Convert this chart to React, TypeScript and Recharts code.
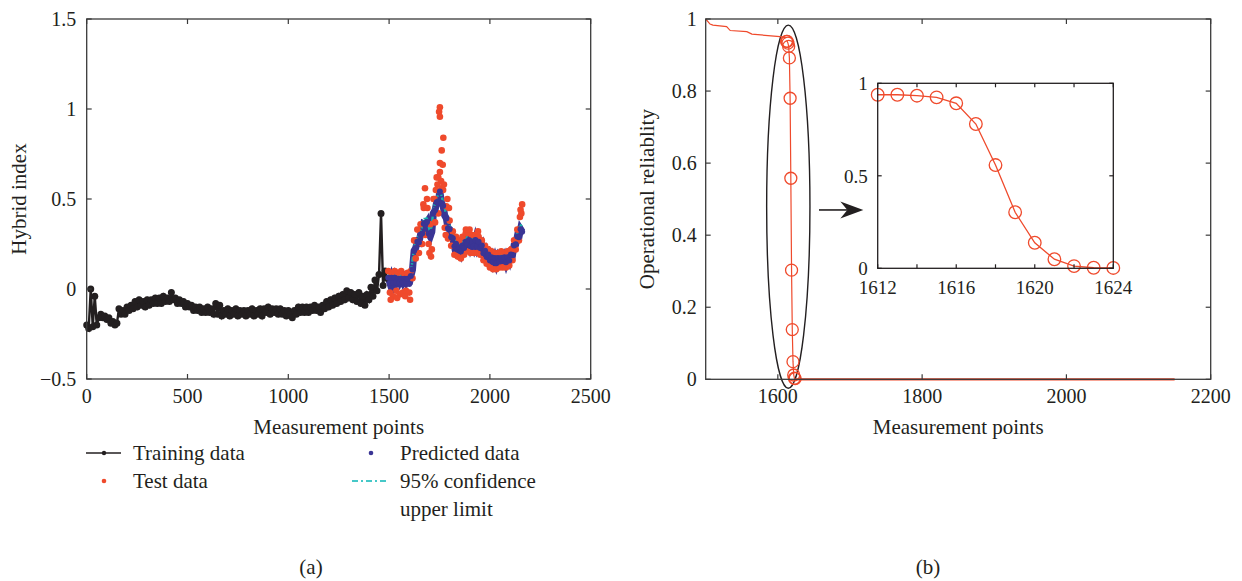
import React from 'react';
import { ComposedChart, LineChart, Line, XAxis, YAxis, ReferenceArea } from 'recharts';

const FONT = '"Liberation Serif", "DejaVu Serif", serif';
const INK = '#231f20';
const AXIS = '#3a3a3a';
const RED = '#ef4a2c';
const BLUE = '#3a3595';
const TEAL = '#19b2aa';

// ---- panel (a): hybrid index ----
const TRAIN_START = 0;
const TRAIN_STEP = 10;
const trainingValues = [
  -0.2, -0.22, 0.0, -0.21, -0.04, -0.2, -0.16, -0.14, -0.16, -0.15,
  -0.17, -0.16, -0.19, -0.18, -0.2, -0.19, -0.11, -0.14, -0.12, -0.14,
  -0.1, -0.12, -0.09, -0.11, -0.07, -0.1, -0.06, -0.09, -0.07, -0.1,
  -0.06, -0.09, -0.06, -0.08, -0.05, -0.08, -0.05, -0.08, -0.04, -0.07,
  -0.05, -0.07, -0.02, -0.06, -0.05, -0.08, -0.06, -0.08, -0.07, -0.1,
  -0.08, -0.1, -0.09, -0.12, -0.1, -0.12, -0.1, -0.13, -0.11, -0.13,
  -0.1, -0.13, -0.11, -0.14, -0.08, -0.14, -0.09, -0.15, -0.12, -0.14,
  -0.11, -0.15, -0.12, -0.14, -0.11, -0.15, -0.12, -0.14, -0.12, -0.15,
  -0.12, -0.14, -0.11, -0.15, -0.12, -0.14, -0.11, -0.15, -0.11, -0.13,
  -0.1, -0.14, -0.11, -0.13, -0.11, -0.14, -0.11, -0.14, -0.12, -0.15,
  -0.12, -0.14, -0.16, -0.12, -0.14, -0.1, -0.13, -0.1, -0.13, -0.1,
  -0.13, -0.1, -0.12, -0.09, -0.12, -0.1, -0.13, -0.09, -0.11, -0.07,
  -0.1, -0.06, -0.09, -0.05, -0.08, -0.04, -0.07, -0.03, -0.06, -0.01,
  -0.05, -0.02, -0.06, -0.03, -0.07, -0.02, -0.08, -0.04, -0.09, -0.03,
  -0.06, 0.01, -0.04, 0.05, -0.01, 0.08, 0.42, 0.02, 0.1, 0.06,
];

const TEST_START = 1496;
const TEST_STEP = 8;
const testValues = [
  0.1, -0.02, 0.09, -0.04, 0.1, -0.01, 0.09, -0.03, 0.1, -0.02,
  0.08, -0.01, 0.09, -0.02, 0.1, 0.06, 0.27, 0.17, 0.33, 0.2,
  0.36, 0.25, 0.45, 0.3, 0.5, 0.25, 0.36, 0.22, 0.5, 0.37,
  0.62, 0.42, 0.7, 0.56, 0.55, 0.34, 0.46, 0.28, 0.38, 0.24,
  0.32, 0.19, 0.29, 0.18, 0.27, 0.17, 0.29, 0.19, 0.31, 0.21,
  0.31, 0.2, 0.3, 0.2, 0.3, 0.2, 0.29, 0.19, 0.27, 0.16,
  0.24, 0.14, 0.22, 0.12, 0.21, 0.11, 0.2, 0.11, 0.2, 0.12,
  0.21, 0.12, 0.2, 0.12, 0.21, 0.13, 0.22, 0.16, 0.27, 0.22,
  0.33, 0.27, 0.44, 0.47,
];
const predictedValues = [
  0.062, 0.033, 0.062, 0.033, 0.062, 0.038, 0.057, 0.038, 0.057, 0.038,
  0.057, 0.038, 0.057, 0.028, 0.072, 0.108, 0.212, 0.228, 0.262, 0.258,
  0.302, 0.308, 0.362, 0.358, 0.372, 0.308, 0.292, 0.318, 0.422, 0.438,
  0.482, 0.488, 0.542, 0.478, 0.462, 0.408, 0.392, 0.338, 0.332, 0.288,
  0.282, 0.238, 0.252, 0.218, 0.232, 0.208, 0.242, 0.228, 0.262, 0.248,
  0.272, 0.238, 0.262, 0.238, 0.272, 0.238, 0.262, 0.228, 0.242, 0.198,
  0.212, 0.178, 0.192, 0.158, 0.177, 0.148, 0.172, 0.143, 0.172, 0.153,
  0.172, 0.158, 0.177, 0.148, 0.177, 0.158, 0.192, 0.188, 0.242, 0.248,
  0.292, 0.288, 0.332, 0.318,
];
const upperLimitValues = [
  0.08, 0.075, 0.08, 0.078, 0.08, 0.08, 0.075, 0.08, 0.076, 0.08,
  0.075, 0.08, 0.076, 0.072, 0.09, 0.16, 0.23, 0.27, 0.28, 0.3,
  0.32, 0.35, 0.38, 0.4, 0.39, 0.35, 0.31, 0.36, 0.44, 0.48,
  0.5, 0.53, 0.57, 0.52, 0.48, 0.45, 0.41, 0.38, 0.35, 0.33,
  0.3, 0.28, 0.27, 0.26, 0.25, 0.25, 0.26, 0.27, 0.28, 0.29,
  0.29, 0.28, 0.28, 0.28, 0.29, 0.28, 0.28, 0.27, 0.26, 0.24,
  0.23, 0.22, 0.21, 0.2, 0.195, 0.19, 0.19, 0.185, 0.19, 0.195,
  0.19, 0.2, 0.195, 0.19, 0.195, 0.2, 0.21, 0.23, 0.26, 0.29,
  0.31, 0.33, 0.35, 0.36,
];
// scattered test points away from the band
const testExtraX = [1752, 1748, 1752, 1769, 1761, 1766, 1752, 1744, 1740, 1758, 1772, 1732, 1678, 1670, 1690, 1700, 1708, 1781, 1789, 2149, 2156, 1881, 1899, 1941, 1604, 1508, 1540, 1580, 1725, 1797];
const testExtraY = [1.01, 0.985, 0.957, 0.84, 0.77, 0.69, 0.65, 0.62, 0.58, 0.6, 0.58, 0.55, 0.56, 0.47, 0.45, 0.2, 0.18, 0.3, 0.5, 0.4, 0.42, 0.33, 0.33, 0.32, -0.06, -0.06, -0.05, -0.04, 0.5, 0.45];

const hybridXDomain = [0, 2500];
const hybridYDomain = [-0.5, 1.5];
const hybridXTicks = [0, 500, 1000, 1500, 2000, 2500];
const hybridYTicks = [-0.5, 0, 0.5, 1, 1.5];

// ---- panel (b): operational reliability ----
const headX = [1500, 1506, 1510, 1529, 1534, 1557, 1564, 1603, 1611];
const headY = [1.0, 0.986, 0.983, 0.979, 0.968, 0.965, 0.958, 0.951, 0.948];
const dropX = [1612, 1613, 1614, 1615, 1616, 1617, 1618, 1619, 1620, 1621, 1622, 1623, 1624];
const dropY = [0.938, 0.938, 0.933, 0.924, 0.892, 0.78, 0.558, 0.303, 0.138, 0.049, 0.012, 0.003, 0.002];
const tailX = [1624, 2150];
const tailY = [0, 0];

const relXDomain = [1500, 2200];
const relYDomain = [0, 1];
const relXTicks = [1600, 1800, 2000, 2200];
const relYTicks = [0, 0.2, 0.4, 0.6, 0.8, 1];
const insetXDomain = [1612, 1624];
const insetXTicks = [1612, 1614, 1616, 1618, 1620, 1622, 1624];
const insetXLabels = [1612, 1616, 1620, 1624];
const insetYTicks = [0, 0.5, 1];

const trainingData = trainingValues.map((y, i) => ({ x: TRAIN_START + i * TRAIN_STEP, y }));
const testData = [
  ...testValues.map((y, i) => ({ x: TEST_START + i * TEST_STEP, y })),
  ...testExtraX.map((x, i) => ({ x, y: testExtraY[i] })),
];
const predictedData = predictedValues.map((y, i) => ({ x: TEST_START + i * TEST_STEP, y }));
const upperData = upperLimitValues.map((y, i) => ({ x: TEST_START + i * TEST_STEP, y }));

const headData = headX.map((x, i) => ({ x, y: headY[i] }));
const dropData = dropX.map((x, i) => ({ x, y: dropY[i] }));
const tailData = tailX.map((x, i) => ({ x, y: tailY[i] }));

// plot boxes (page pixels), shared by the chart margins and the frame overlay
const LEFT_BOX = { left: 86.7, top: 19, width: 504, height: 360 };
const RIGHT_BOX = { left: 705.7, top: 19, width: 505, height: 360.3 };
const INSET_BOX = { left: 877.7, top: 83.3, width: 235.6, height: 185 };

const labelStyle = { fontSize: 21, fill: INK, fontFamily: FONT };
const minus = (v: number) => String(v).replace('-', '\u2212');
const plain = (v: number) => String(v);

type Side = 'bottom' | 'left';

// tick label handed over by Recharts at the axis position
const makeTick = (side: Side, fmt: (v: number) => string, fontSize = 20, gap = 10, drop = 24) =>
  (p: any) => {
    const { x, y, payload } = p;
    const label = fmt(payload.value);
    const font = { fontSize, fill: INK, fontFamily: FONT };
    if (!label) return <g />;
    if (side === 'bottom') return <text x={x} y={y + drop} textAnchor="middle" {...font}>{label}</text>;
    return <text x={x - gap} y={y + 7} textAnchor="end" {...font}>{label}</text>;
  };

const dotShape = (color: string, r: number) => (p: any) =>
  <circle key={`${p.index}`} cx={p.cx} cy={p.cy} r={r} fill={color} />;

const EllipseShape = (p: any) => (
  <ellipse
    cx={p.x + p.width / 2}
    cy={p.y + p.height / 2}
    rx={Math.abs(p.width) / 2}
    ry={Math.abs(p.height) / 2}
    fill="none"
    stroke={INK}
    strokeWidth={1.4}
  />
);

const ArrowShape = (p: any) => {
  const y = p.y + p.height / 2;
  const x0 = p.x;
  const x1 = p.x + p.width;
  return (
    <g>
      <line x1={x0} y1={y} x2={x1 - 16} y2={y} stroke={INK} strokeWidth={1.6} />
      <path d={`M${x1},${y} L${x1 - 23},${y - 8.5} L${x1 - 16},${y} L${x1 - 23},${y + 8.5} Z`} fill={INK} />
    </g>
  );
};

function HybridPanel() {
  return (
    <ComposedChart width={620} height={450} margin={{ top: 19, right: 29.3, bottom: 41, left: 6.7 }}>
      <XAxis
        xAxisId="b" type="number" dataKey="x" domain={hybridXDomain} ticks={hybridXTicks}
        height={30} tickSize={0} tickMargin={0} axisLine={false} tickLine={false} tick={makeTick('bottom', plain)}
        label={{ value: 'Measurement points', position: 'bottom', offset: 10, style: labelStyle }}
      />
      <YAxis
        yAxisId="l" type="number" domain={hybridYDomain} ticks={hybridYTicks} width={80}
        tickSize={0} tickMargin={0} axisLine={false} tickLine={false} tick={makeTick('left', minus, 20, 10.5)}
        label={{ value: 'Hybrid index', angle: -90, position: 'insideLeft', offset: 12.3, style: { ...labelStyle, textAnchor: 'middle' } }}
      />
      <Line xAxisId="b" yAxisId="l" data={trainingData} dataKey="y" stroke={INK} strokeWidth={2.4}
        dot={dotShape(INK, 3.5)} activeDot={false} isAnimationActive={false} />
      <Line xAxisId="b" yAxisId="l" data={testData} dataKey="y" stroke="none"
        dot={dotShape(RED, 3.3)} activeDot={false} isAnimationActive={false} />
      <Line xAxisId="b" yAxisId="l" data={predictedData} dataKey="y" stroke={BLUE} strokeWidth={7}
        dot={dotShape(BLUE, 3)} activeDot={false} isAnimationActive={false} />
      <Line xAxisId="b" yAxisId="l" data={upperData} dataKey="y" stroke={TEAL} strokeWidth={2.4}
        strokeDasharray="5 1.5 1.5 1.5" dot={false} activeDot={false} isAnimationActive={false} />
    </ComposedChart>
  );
}

function ReliabilityPanel() {
  return (
    <ComposedChart width={622} height={450} margin={{ top: 19, right: 31.3, bottom: 40.7, left: 5.7 }}>
      <XAxis
        xAxisId="b" type="number" dataKey="x" domain={relXDomain} ticks={relXTicks}
        height={30} tickSize={0} tickMargin={0} axisLine={false} tickLine={false} tick={makeTick('bottom', plain)}
        label={{ value: 'Measurement points', position: 'bottom', offset: 10, style: labelStyle }}
      />
      <YAxis
        yAxisId="l" type="number" domain={relYDomain} ticks={relYTicks} width={80}
        tickSize={0} tickMargin={0} axisLine={false} tickLine={false} tick={makeTick('left', plain, 20, 9)}
        label={{ value: 'Operational reliablity', angle: -90, position: 'insideLeft', offset: 21.3, style: { ...labelStyle, textAnchor: 'middle' } }}
      />
      <Line xAxisId="b" yAxisId="l" data={headData} dataKey="y" stroke={RED} strokeWidth={1.2}
        dot={false} activeDot={false} isAnimationActive={false} />
      <Line xAxisId="b" yAxisId="l" data={tailData} dataKey="y" stroke={RED} strokeWidth={2.2}
        dot={false} activeDot={false} isAnimationActive={false} />
      <Line xAxisId="b" yAxisId="l" data={dropData} dataKey="y" stroke={RED} strokeWidth={1.2}
        dot={{ r: 6, stroke: RED, strokeWidth: 1.3, fill: 'none' }} activeDot={false} isAnimationActive={false} />
      <ReferenceArea xAxisId="b" yAxisId="l" x1={1584.5} x2={1644.5} y1={-0.025} y2={0.983}
        ifOverflow="visible" shape={EllipseShape} />
      <ReferenceArea xAxisId="b" yAxisId="l" x1={1657} x2={1718.5} y1={0.455} y2={0.485}
        ifOverflow="visible" shape={ArrowShape} />
    </ComposedChart>
  );
}

function InsetPanel() {
  return (
    <LineChart width={360} height={250} margin={{ top: 23.3, right: 36.7, bottom: 11.7, left: 7.7 }}>
      <XAxis
        xAxisId="b" type="number" dataKey="x" domain={insetXDomain} ticks={insetXTicks}
        height={30} tickSize={0} tickMargin={0} axisLine={false} tickLine={false}
        tick={makeTick('bottom', (v: number) => (insetXLabels.includes(v) ? String(v) : ''), 19, 10, 26)}
      />
      <YAxis
        yAxisId="l" type="number" domain={relYDomain} ticks={insetYTicks} width={80}
        tickSize={0} tickMargin={0} axisLine={false} tickLine={false} tick={makeTick('left', plain, 19, 10)}
      />
      <Line xAxisId="b" yAxisId="l" data={dropData} dataKey="y" stroke={RED} strokeWidth={1.3}
        dot={{ r: 6.3, stroke: RED, strokeWidth: 1.3, fill: 'none' }} activeDot={false} isAnimationActive={false} />
    </LineChart>
  );
}

// box with inward ticks on all four sides, placed over a plot area
function Frame({ box, xDomain, yDomain, xTicks, yTicks, color, len }: any) {
  const { left, top, width, height } = box;
  const px = (v: number) => left + ((v - xDomain[0]) / (xDomain[1] - xDomain[0])) * width;
  const py = (v: number) => top + height - ((v - yDomain[0]) / (yDomain[1] - yDomain[0])) * height;
  return (
    <g stroke={color} fill="none">
      <rect x={left} y={top} width={width} height={height} strokeWidth={1.3} />
      {xTicks.map((t: number) => (
        <g key={`x${t}`} strokeWidth={1.2}>
          <line x1={px(t)} y1={top + height} x2={px(t)} y2={top + height - len} />
          <line x1={px(t)} y1={top} x2={px(t)} y2={top + len} />
        </g>
      ))}
      {yTicks.map((t: number) => (
        <g key={`y${t}`} strokeWidth={1.2}>
          <line x1={left} y1={py(t)} x2={left + len} y2={py(t)} />
          <line x1={left + width} y1={py(t)} x2={left + width - len} y2={py(t)} />
        </g>
      ))}
    </g>
  );
}

function Annotations() {
  const text = { fontSize: 21, fill: INK, fontFamily: FONT };
  return (
    <svg width={1242} height={581} style={{ position: 'absolute', left: 0, top: 0, pointerEvents: 'none' }}>
      <Frame box={LEFT_BOX} xDomain={hybridXDomain} yDomain={hybridYDomain} xTicks={hybridXTicks} yTicks={hybridYTicks} color={AXIS} len={5} />
      <Frame box={RIGHT_BOX} xDomain={relXDomain} yDomain={relYDomain} xTicks={relXTicks} yTicks={relYTicks} color={AXIS} len={5} />
      <Frame box={INSET_BOX} xDomain={insetXDomain} yDomain={relYDomain} xTicks={insetXTicks} yTicks={insetYTicks} color={INK} len={4} />
      <line x1={86} y1={453} x2={121} y2={453} stroke={INK} strokeWidth={1.5} />
      <circle cx={104} cy={453} r={2.2} fill={INK} />
      <text x={133} y={460} {...text}>Training data</text>
      <circle cx={104} cy={481} r={2.3} fill={RED} />
      <text x={133} y={488} {...text}>Test data</text>
      <circle cx={371} cy={453} r={2.3} fill={BLUE} />
      <text x={400} y={460} {...text}>Predicted data</text>
      <line x1={352} y1={481} x2={389} y2={481} stroke="#46c8c8" strokeWidth={1.8} strokeDasharray="6 3 2 3" />
      <text x={400} y={488} {...text}>95% confidence</text>
      <text x={400} y={516} {...text}>upper limit</text>
      <text x={311} y={574} textAnchor="middle" {...text}>(a)</text>
      <text x={928} y={574} textAnchor="middle" {...text}>(b)</text>
    </svg>
  );
}

export default function App() {
  return (
    <div style={{ position: 'absolute', left: 0, top: 0, width: 1242, height: 581, background: '#fff' }}>
      <div style={{ position: 'absolute', left: 0, top: 0 }}>
        <HybridPanel />
      </div>
      <div style={{ position: 'absolute', left: 620, top: 0 }}>
        <ReliabilityPanel />
      </div>
      <div style={{ position: 'absolute', left: 790, top: 60 }}>
        <InsetPanel />
      </div>
      <Annotations />
    </div>
  );
}
